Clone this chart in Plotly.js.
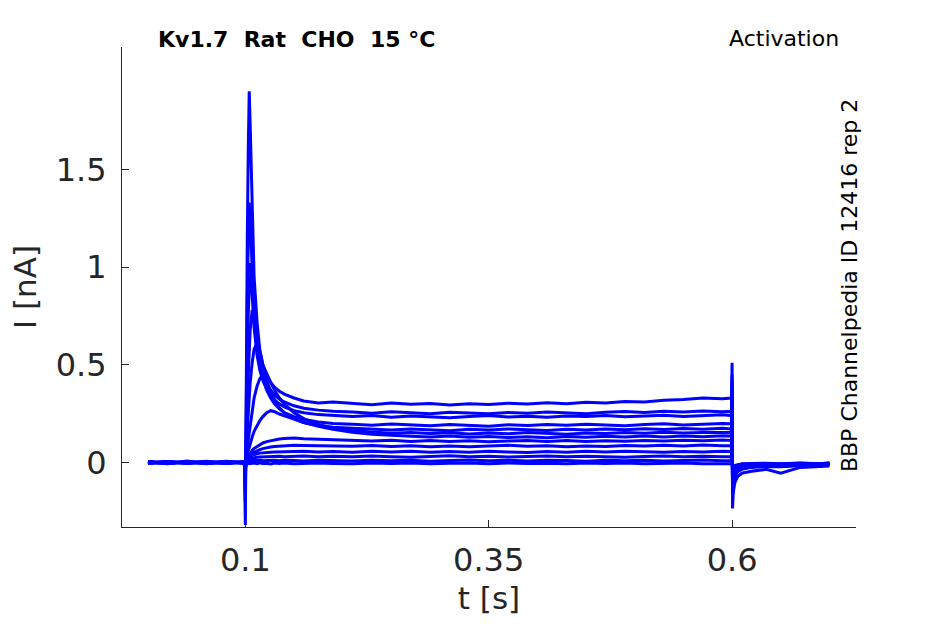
<!DOCTYPE html>
<html>
<head>
<meta charset="utf-8">
<script src="https://cdn.plot.ly/plotly-3.0.1.min.js"></script>
<style>
  body { margin: 0; background: #fff; }
  #graphgoeshere { width: 945px; height: 624px; }
</style>
</head>
<body>
<div id="graphgoeshere"></div>
<script>
// time points [s], shared by all sweeps
var t = [0, 0.02, 0.04, 0.06, 0.08, 0.099,
    0.1, 0.1005, 0.101, 0.102, 0.103, 0.104, 0.105, 0.107, 0.109,
    0.112, 0.115, 0.118, 0.122, 0.126, 0.13, 0.135, 0.14, 0.15, 0.16,
    0.175, 0.19, 0.21, 0.23, 0.25, 0.27, 0.29, 0.31, 0.33, 0.35,
    0.37, 0.39, 0.41, 0.43, 0.45, 0.47, 0.49, 0.51, 0.53, 0.55,
    0.57, 0.59, 0.5995, 0.6, 0.6005, 0.601, 0.603, 0.606, 0.61, 0.62,
    0.635, 0.65, 0.67, 0.69, 0.7];

// current [nA] for each sweep
var i1 = [0.004, -0.006, 0.008, -0.004, 0.006, 0.0,
    -0.32, 0.25, 0.6, 1.15, 1.6, 1.90, 1.72, 1.25, 0.95,
    0.72, 0.57, 0.5, 0.45, 0.41, 0.385, 0.365, 0.35, 0.33, 0.315,
    0.305, 0.31, 0.302, 0.296, 0.305, 0.298, 0.302, 0.294, 0.3, 0.297,
    0.303, 0.299, 0.306, 0.3, 0.308, 0.304, 0.312, 0.31, 0.318, 0.322,
    0.33, 0.326, 0.33, 0.51, -0.235, -0.16, -0.1, -0.07, -0.055, -0.045,
    -0.035, -0.055, -0.025, -0.02, -0.018];
var i2 = [-0.003, 0.005, -0.002, 0.004, -0.005, 0.002,
    -0.2, 0.15, 0.4, 0.8, 1.12, 1.33, 1.24, 0.95, 0.76,
    0.6, 0.5, 0.44, 0.4, 0.37, 0.345, 0.325, 0.31, 0.29, 0.278,
    0.268, 0.262, 0.258, 0.252, 0.26, 0.255, 0.25, 0.257, 0.253, 0.249,
    0.256, 0.252, 0.258, 0.254, 0.25, 0.257, 0.261, 0.256, 0.262, 0.258,
    0.264, 0.26, 0.262, 0.45, -0.2, -0.12, -0.07, -0.045, -0.035, -0.025,
    -0.02, -0.022, -0.015, -0.018, -0.012];
var i3 = [0.002, -0.004, 0.005, -0.006, 0.003, -0.002,
    -0.12, 0.1, 0.25, 0.5, 0.76, 0.95, 1.02, 0.86, 0.69,
    0.55, 0.47, 0.42, 0.375, 0.345, 0.32, 0.3, 0.285, 0.265, 0.255,
    0.245, 0.24, 0.236, 0.24, 0.232, 0.238, 0.234, 0.229, 0.236, 0.24,
    0.233, 0.237, 0.231, 0.238, 0.235, 0.24, 0.234, 0.238, 0.242, 0.236,
    0.24, 0.244, 0.24, 0.42, -0.18, -0.1, -0.06, -0.04, -0.03, -0.022,
    -0.018, -0.02, -0.014, -0.016, -0.01];
var i4 = [-0.005, 0.003, -0.003, 0.006, -0.002, 0.004,
    -0.08, 0.06, 0.15, 0.3, 0.45, 0.58, 0.68, 0.78, 0.72,
    0.6, 0.5, 0.43, 0.37, 0.33, 0.3, 0.275, 0.255, 0.235, 0.22,
    0.207, 0.2, 0.196, 0.19, 0.197, 0.192, 0.188, 0.195, 0.19, 0.186,
    0.193, 0.189, 0.195, 0.19, 0.196, 0.191, 0.188, 0.194, 0.198, 0.192,
    0.197, 0.2, 0.198, 0.4, -0.16, -0.09, -0.05, -0.035, -0.025, -0.02,
    -0.015, -0.018, -0.012, -0.015, -0.01];
var i5 = [0.003, -0.005, 0.002, -0.003, 0.005, -0.001,
    -0.06, 0.04, 0.08, 0.17, 0.26, 0.34, 0.41, 0.51, 0.58,
    0.61, 0.57, 0.5, 0.42, 0.36, 0.32, 0.28, 0.255, 0.225, 0.205,
    0.19, 0.18, 0.175, 0.17, 0.166, 0.172, 0.168, 0.163, 0.17, 0.166,
    0.172, 0.167, 0.164, 0.17, 0.166, 0.171, 0.168, 0.173, 0.169, 0.174,
    0.17, 0.175, 0.172, 0.38, -0.15, -0.08, -0.045, -0.03, -0.022, -0.018,
    -0.014, -0.016, -0.01, -0.013, -0.008];
var i6 = [-0.002, 0.004, -0.005, 0.002, -0.004, 0.003,
    -0.05, 0.02, 0.04, 0.08, 0.12, 0.16, 0.2, 0.27, 0.33,
    0.39, 0.43, 0.45, 0.44, 0.41, 0.37, 0.33, 0.3, 0.255, 0.225,
    0.195, 0.175, 0.162, 0.155, 0.15, 0.154, 0.148, 0.152, 0.146, 0.151,
    0.147, 0.153, 0.149, 0.145, 0.151, 0.148, 0.153, 0.15, 0.155, 0.151,
    0.154, 0.157, 0.155, 0.36, -0.14, -0.07, -0.04, -0.028, -0.02, -0.015,
    -0.012, -0.014, -0.01, -0.012, -0.007];
var i7 = [0.004, -0.002, 0.003, -0.005, 0.002, -0.003,
    -0.04, 0.01, 0.02, 0.04, 0.06, 0.08, 0.1, 0.13, 0.16,
    0.19, 0.215, 0.235, 0.255, 0.265, 0.26, 0.248, 0.238, 0.222, 0.205,
    0.185, 0.17, 0.155, 0.145, 0.138, 0.134, 0.13, 0.135, 0.129, 0.133,
    0.128, 0.132, 0.127, 0.133, 0.129, 0.134, 0.13, 0.135, 0.131, 0.136,
    0.132, 0.137, 0.135, 0.34, -0.13, -0.06, -0.035, -0.025, -0.018, -0.014,
    -0.01, -0.013, -0.008, -0.011, -0.006];
var i8 = [-0.004, 0.002, -0.003, 0.005, -0.002, 0.001,
    -0.03, 0.005, 0.01, 0.02, 0.03, 0.04, 0.05, 0.062, 0.072,
    0.082, 0.092, 0.1, 0.107, 0.112, 0.116, 0.12, 0.123, 0.126, 0.122,
    0.12, 0.117, 0.113, 0.11, 0.114, 0.108, 0.112, 0.107, 0.111, 0.106,
    0.11, 0.113, 0.108, 0.112, 0.107, 0.111, 0.109, 0.113, 0.11, 0.114,
    0.111, 0.115, 0.113, 0.32, -0.12, -0.05, -0.03, -0.02, -0.015, -0.012,
    -0.009, -0.011, -0.007, -0.01, -0.006];
var i9 = [0.002, -0.004, 0.004, -0.002, 0.003, -0.004,
    -0.025, 0.004, 0.008, 0.015, 0.022, 0.028, 0.034, 0.044, 0.052,
    0.06, 0.066, 0.071, 0.076, 0.079, 0.082, 0.084, 0.086, 0.088, 0.087,
    0.086, 0.085, 0.083, 0.087, 0.082, 0.086, 0.081, 0.085, 0.08, 0.084,
    0.088, 0.083, 0.086, 0.081, 0.085, 0.082, 0.087, 0.084, 0.088, 0.085,
    0.089, 0.086, 0.087, 0.3, -0.11, -0.045, -0.025, -0.018, -0.012, -0.01,
    -0.008, -0.01, -0.006, -0.009, -0.005];
var i10 = [-0.003, 0.005, -0.001, 0.003, -0.005, 0.002,
    -0.02, 0.003, 0.006, 0.012, 0.018, 0.023, 0.028, 0.035, 0.04,
    0.045, 0.048, 0.05, 0.052, 0.053, 0.054, 0.055, 0.056, 0.055, 0.057,
    0.054, 0.056, 0.053, 0.057, 0.054, 0.058, 0.052, 0.056, 0.053, 0.057,
    0.054, 0.051, 0.056, 0.053, 0.057, 0.054, 0.058, 0.055, 0.052, 0.056,
    0.054, 0.058, 0.056, 0.28, -0.1, -0.04, -0.02, -0.015, -0.01, -0.008,
    -0.006, -0.009, -0.005, -0.008, -0.004];
var i11 = [0.005, -0.003, 0.001, -0.004, 0.004, -0.002,
    -0.015, 0.003, 0.005, 0.009, 0.013, 0.016, 0.019, 0.022, 0.025,
    0.027, 0.028, 0.029, 0.03, 0.031, 0.03, 0.032, 0.029, 0.031, 0.033,
    0.03, 0.032, 0.029, 0.033, 0.03, 0.027, 0.031, 0.034, 0.029, 0.032,
    0.028, 0.031, 0.033, 0.029, 0.032, 0.03, 0.027, 0.031, 0.033, 0.03,
    0.032, 0.029, 0.031, 0.26, -0.09, -0.035, -0.018, -0.012, -0.008, -0.006,
    -0.005, -0.008, -0.004, -0.007, -0.003];
var i12 = [-0.001, 0.003, -0.004, 0.001, -0.003, 0.004,
    -0.012, 0.002, 0.004, 0.006, 0.007, 0.008, 0.009, 0.01, 0.011,
    0.01, 0.012, 0.009, 0.011, 0.01, 0.012, 0.009, 0.011, 0.01, 0.008,
    0.012, 0.01, 0.008, 0.012, 0.009, 0.011, 0.007, 0.01, 0.013, 0.009,
    0.011, 0.008, 0.012, 0.01, 0.007, 0.011, 0.009, 0.012, 0.008, 0.01,
    0.013, 0.009, 0.01, 0.24, -0.08, -0.03, -0.015, -0.01, -0.007, -0.005,
    -0.004, -0.007, -0.003, -0.006, -0.002];
var i13 = [0.001, -0.005, 0.003, -0.002, 0.002, -0.003,
    -0.01, -0.004, -0.006, -0.003, -0.005, -0.002, -0.006, -0.004, -0.003,
    -0.006, -0.002, -0.005, -0.004, -0.007, -0.003, -0.005, -0.002, -0.006, -0.004,
    -0.003, -0.005, -0.006, -0.003, -0.005, -0.002, -0.007, -0.004, -0.003, -0.006,
    -0.002, -0.005, -0.004, -0.007, -0.003, -0.005, -0.002, -0.006, -0.004, -0.003,
    -0.006, -0.004, -0.005, 0.22, -0.07, -0.03, -0.018, -0.014, -0.012, -0.011,
    -0.01, -0.013, -0.009, -0.012, -0.008];

var sweeps = [i1, i2, i3, i4, i5, i6, i7, i8, i9, i10, i11, i12, i13];

var xTicks = [0.1, 0.35, 0.6];
var xTickText = ['0.1', '0.35', '0.6'];
var yTicks = [0, 0.5, 1, 1.5];
var yTickText = ['0', '0.5', '1', '1.5'];

var titleText = 'Kv1.7\u00a0\u00a0Rat\u00a0\u00a0CHO\u00a0\u00a015\u00a0\u00b0C';
var protocolText = 'Activation';
var sourceText = 'BBP Channelpedia ID 12416 rep 2';

function makeGraph() {
    var ink = '#262626';
    var data = [];
    // draw small sweeps first so the big ones sit on top
    for (var k = sweeps.length - 1; k >= 0; k--) {
        data.push({
            x: t,
            y: sweeps[k],
            mode: 'lines',
            type: 'scatter',
            line: { color: '#0000ff', width: 3 },
            hoverinfo: 'skip',
            showlegend: false
        });
    }

    var axisCommon = {
        showline: true,
        linecolor: ink,
        linewidth: 1,
        ticks: 'inside',
        ticklen: 7,
        tickwidth: 1,
        tickcolor: ink,
        showgrid: false,
        zeroline: false,
        tickfont: { family: 'DejaVu Sans', size: 32, color: ink }
    };

    var layout = {
        width: 945,
        height: 624,
        margin: { l: 122, r: 89, t: 47, b: 97 },
        paper_bgcolor: '#ffffff',
        plot_bgcolor: '#ffffff',
        font: { family: 'DejaVu Sans', color: ink },
        xaxis: Object.assign({}, axisCommon, {
            range: [-0.0267, 0.7273],
            tickmode: 'array',
            tickvals: xTicks,
            ticktext: xTickText,
            ticklabelstandoff: 5,
            title: { text: 't [s]', font: { family: 'DejaVu Sans', size: 31, color: ink }, standoff: 8 }
        }),
        yaxis: Object.assign({}, axisCommon, {
            range: [-0.33, 2.126],
            tickmode: 'array',
            tickvals: yTicks,
            ticktext: yTickText,
            ticklabelstandoff: 8,
            title: { text: 'I [nA]', font: { family: 'DejaVu Sans', size: 31, color: ink }, standoff: 9 }
        }),
        annotations: [
            {
                text: '<b>' + titleText + '</b>',
                xref: 'paper', yref: 'paper',
                x: 0.046, y: 1.0146, xanchor: 'left', yanchor: 'middle',
                showarrow: false,
                font: { family: 'DejaVu Sans', size: 22, color: '#000000' }
            },
            {
                text: protocolText,
                xref: 'paper', yref: 'paper',
                x: 0.979, y: 1.017, xanchor: 'right', yanchor: 'middle',
                showarrow: false,
                font: { family: 'DejaVu Sans', size: 22, color: '#000000' }
            },
            {
                text: sourceText,
                xref: 'paper', yref: 'paper',
                x: 0.9905, y: 0.502, xanchor: 'center', yanchor: 'middle',
                textangle: -90,
                showarrow: false,
                font: { family: 'DejaVu Sans', size: 22, color: '#000000' }
            }
        ]
    };

    Plotly.newPlot('graphgoeshere', data, layout, { staticPlot: true, displayModeBar: false });
}

makeGraph();
</script>
</body>
</html>
